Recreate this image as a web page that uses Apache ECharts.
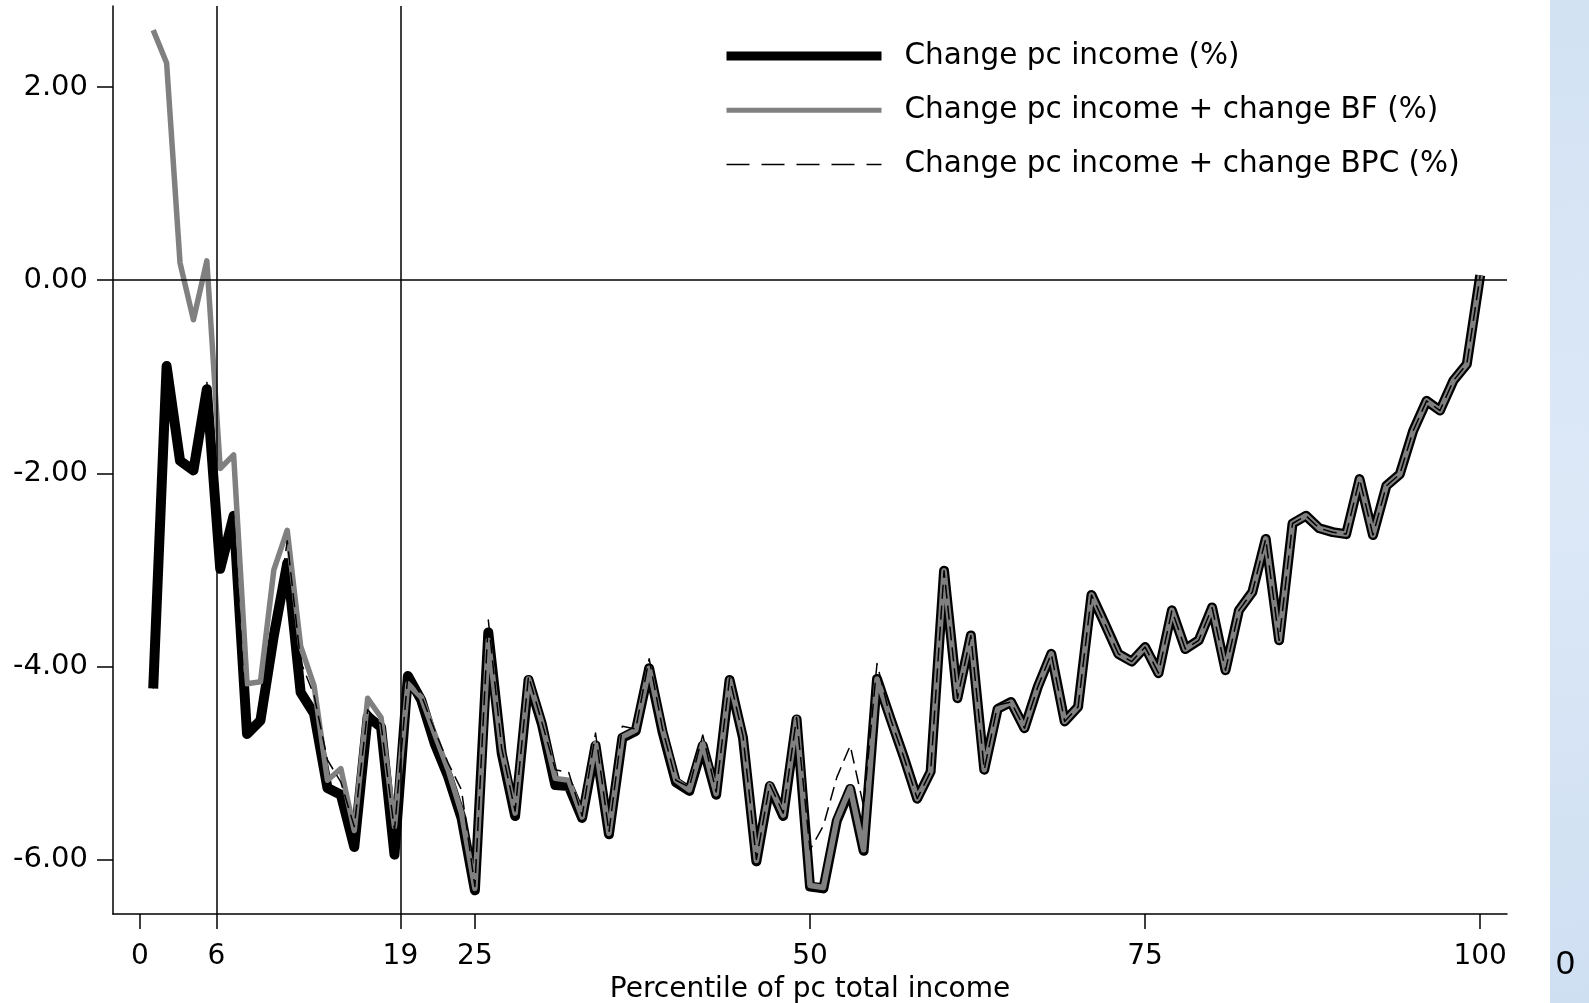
<!DOCTYPE html>
<html>
<head>
<meta charset="utf-8">
<script src="https://cdn.jsdelivr.net/npm/echarts@6/dist/echarts.min.js"></script>
<style>
  html, body { margin: 0; padding: 0; background: #ffffff; }
  #chart { width: 1589px; height: 1003px; }
</style>
</head>
<body>
<div id="chart"></div>
<script>
// ---- data ----
const percentiles = [1,2,3,4,5,6,7,8,9,10,11,12,13,14,15,16,17,18,19,20,
  21,22,23,24,25,26,27,28,29,30,31,32,33,34,35,36,37,38,39,40,
  41,42,43,44,45,46,47,48,49,50,51,52,53,54,55,56,57,58,59,60,
  61,62,63,64,65,66,67,68,69,70,71,72,73,74,75,76,77,78,79,80,
  81,82,83,84,85,86,87,88,89,90,91,92,93,94,95,96,97,98,99,100];

const changeIncome = [-4.23,-0.89,-1.87,-1.97,-1.13,-2.99,-2.44,-4.70,-4.56,-3.68,
  -2.93,-4.27,-4.49,-5.26,-5.33,-5.87,-4.52,-4.63,-5.95,-4.10,
  -4.35,-4.80,-5.14,-5.57,-6.32,-3.65,-4.90,-5.55,-4.14,-4.60,
  -5.23,-5.24,-5.57,-4.82,-5.74,-4.74,-4.67,-4.02,-4.68,-5.20,
  -5.29,-4.82,-5.33,-4.14,-4.74,-6.02,-5.24,-5.55,-4.55,-6.28,
  -6.30,-5.60,-5.27,-5.91,-4.13,-4.54,-4.94,-5.37,-5.09,-3.01,
  -4.33,-3.68,-5.07,-4.44,-4.37,-4.64,-4.21,-3.87,-4.57,-4.42,
  -3.26,-3.56,-3.87,-3.95,-3.80,-4.07,-3.42,-3.82,-3.73,-3.39,
  -4.04,-3.42,-3.23,-2.68,-3.73,-2.52,-2.44,-2.57,-2.61,-2.63,
  -2.06,-2.64,-2.13,-2.01,-1.56,-1.25,-1.35,-1.04,-0.87,0.05];

const changeIncomeBF = [2.59,2.25,0.18,-0.41,0.20,-1.95,-1.81,-4.18,-4.16,-3.00,
  -2.59,-3.79,-4.20,-5.18,-5.06,-5.70,-4.33,-4.53,-5.66,-4.18,
  -4.32,-4.70,-5.07,-5.52,-6.30,-3.73,-4.87,-5.52,-4.13,-4.59,
  -5.16,-5.18,-5.56,-4.80,-5.73,-4.73,-4.66,-4.02,-4.66,-5.18,
  -5.28,-4.80,-5.32,-4.14,-4.73,-6.01,-5.23,-5.54,-4.54,-6.27,
  -6.29,-5.59,-5.26,-5.90,-4.13,-4.54,-4.94,-5.37,-5.09,-3.01,
  -4.33,-3.68,-5.07,-4.44,-4.37,-4.64,-4.21,-3.87,-4.57,-4.42,
  -3.26,-3.56,-3.87,-3.95,-3.80,-4.07,-3.42,-3.82,-3.73,-3.39,
  -4.04,-3.42,-3.23,-2.68,-3.73,-2.52,-2.44,-2.57,-2.61,-2.63,
  -2.06,-2.64,-2.13,-2.01,-1.56,-1.25,-1.35,-1.04,-0.87,0.05];

const changeIncomeBPC = [-4.23,-0.89,-1.87,-1.97,-1.05,-2.99,-2.44,-4.70,-4.56,-3.68,
  -2.70,-3.95,-4.30,-4.97,-5.20,-5.66,-4.45,-4.60,-5.70,-4.09,
  -4.30,-4.66,-5.00,-5.28,-6.28,-3.52,-4.85,-5.50,-4.10,-4.58,
  -5.07,-5.10,-5.55,-4.69,-5.72,-4.62,-4.65,-3.92,-4.65,-5.18,
  -5.25,-4.71,-5.30,-4.12,-4.72,-6.00,-5.22,-5.52,-4.53,-5.90,
  -5.65,-5.15,-4.82,-5.45,-3.97,-4.54,-4.94,-5.37,-5.09,-3.01,
  -4.33,-3.68,-5.07,-4.40,-4.37,-4.64,-4.21,-3.87,-4.57,-4.42,
  -3.26,-3.56,-3.87,-3.95,-3.80,-4.07,-3.42,-3.82,-3.73,-3.39,
  -4.04,-3.42,-3.23,-2.68,-3.73,-2.52,-2.44,-2.57,-2.61,-2.63,
  -2.06,-2.64,-2.13,-2.01,-1.56,-1.25,-1.35,-1.04,-0.87,0.05];

const seriesNames = ['Change pc income (%)', 'Change pc income + change BF (%)', 'Change pc income + change BPC (%)'];
const xTickValues = [0, 25, 50, 75, 100];
const refLineValues = [5.72, 19.44];
const refLineLabels = ['6', '19'];
const yTickValues = [-6, -4, -2, 0, 2];
const xAxisTitle = 'Percentile of pc total income';
const sideLabel = '0';

// ---- chart ----
const FONT = 'DejaVu Sans';
const chart = echarts.init(document.getElementById('chart'), null, { renderer: 'canvas' });

function pairs(ys) { return percentiles.map((p, i) => [p, ys[i]]); }

const xLabelValues = xTickValues.concat(refLineValues).sort((a, b) => a - b);

const option = {
  animation: false,
  backgroundColor: '#ffffff',
  grid: { left: 113, right: 82, top: 6, bottom: 89, containLabel: false, outerBoundsMode: 'none' },
  legend: {
    orient: 'vertical',
    left: 717,
    top: 36,
    itemWidth: 155,
    itemHeight: 30,
    itemGap: 24.2,
    selectedMode: false,
    itemStyle: { opacity: 0 },
    textStyle: { fontFamily: FONT, fontSize: 29.5, color: '#000', padding: [0, 0, 0, 18] },
    data: [
      { name: seriesNames[0], itemStyle: { opacity: 0 }, lineStyle: { width: 9, color: '#000' } },
      { name: seriesNames[1], itemStyle: { opacity: 0 }, lineStyle: { width: 5, color: '#808080' } },
      { name: seriesNames[2], itemStyle: { opacity: 0 }, lineStyle: { width: 1.5, color: '#000', type: [23, 12] } }
    ]
  },
  xAxis: {
    type: 'value',
    min: -2,
    max: 102,
    name: xAxisTitle,
    nameLocation: 'middle',
    nameGap: 57,
    nameTextStyle: { fontFamily: FONT, fontSize: 28, color: '#000' },
    axisLine: { show: true, onZero: false, lineStyle: { color: '#000', width: 1.5 } },
    axisTick: { show: true, length: 15, lineStyle: { color: '#000', width: 1.5 }, customValues: xLabelValues },
    axisLabel: {
      fontFamily: FONT, fontSize: 28, color: '#000', margin: 29,
      customValues: xLabelValues,
      formatter: function (v) {
        const k = refLineValues.indexOf(v);
        return k >= 0 ? refLineLabels[k] : String(v);
      }
    },
    splitLine: { show: false }
  },
  yAxis: {
    type: 'value',
    min: -6.565,
    max: 2.84,
    axisLine: { show: true, onZero: false, lineStyle: { color: '#000', width: 1.5 } },
    axisTick: { show: true, length: 16, lineStyle: { color: '#000', width: 1.5 }, customValues: yTickValues },
    axisLabel: {
      fontFamily: FONT, fontSize: 29, color: '#000', margin: 25,
      padding: [8, 0, 0, 0],
      customValues: yTickValues,
      formatter: function (v) { return Number(v).toFixed(2); }
    },
    splitLine: { show: false }
  },
  series: [
    {
      name: seriesNames[0],
      type: 'line',
      data: pairs(changeIncome),
      symbol: 'none',
      z: 2,
      lineStyle: { color: '#000', width: 10, join: 'round', cap: 'butt' },
      markLine: {
        silent: true,
        symbol: 'none',
        label: { show: false },
        lineStyle: { color: '#000', width: 1.5, type: 'solid' },
        data: refLineValues.map(v => ({ xAxis: v })).concat([{ yAxis: 0 }])
      }
    },
    {
      name: seriesNames[1],
      type: 'line',
      data: pairs(changeIncomeBF),
      symbol: 'none',
      z: 3,
      lineStyle: { color: '#808080', width: 5.5, join: 'round', cap: 'butt' }
    },
    {
      name: seriesNames[2],
      type: 'line',
      data: pairs(changeIncomeBPC),
      symbol: 'none',
      z: 4,
      lineStyle: { color: '#000', width: 1.5, type: [14, 7], join: 'round' }
    }
  ],
  graphic: [
    {
      type: 'rect',
      right: 0,
      top: 0,
      shape: { width: 39, height: 1003 },
      style: {
        fill: new echarts.graphic.LinearGradient(0, 0, 1, 1, [
          { offset: 0, color: '#d3e2f3' },
          { offset: 0.5, color: '#dce8f6' },
          { offset: 1, color: '#cfdff2' }
        ])
      },
      silent: true
    },
    {
      type: 'text',
      right: 14,
      top: 948,
      style: { text: sideLabel, font: '34px "Liberation Sans"', fill: '#000' },
      silent: true
    }
  ]
};

chart.setOption(option);
</script>
</body>
</html>
